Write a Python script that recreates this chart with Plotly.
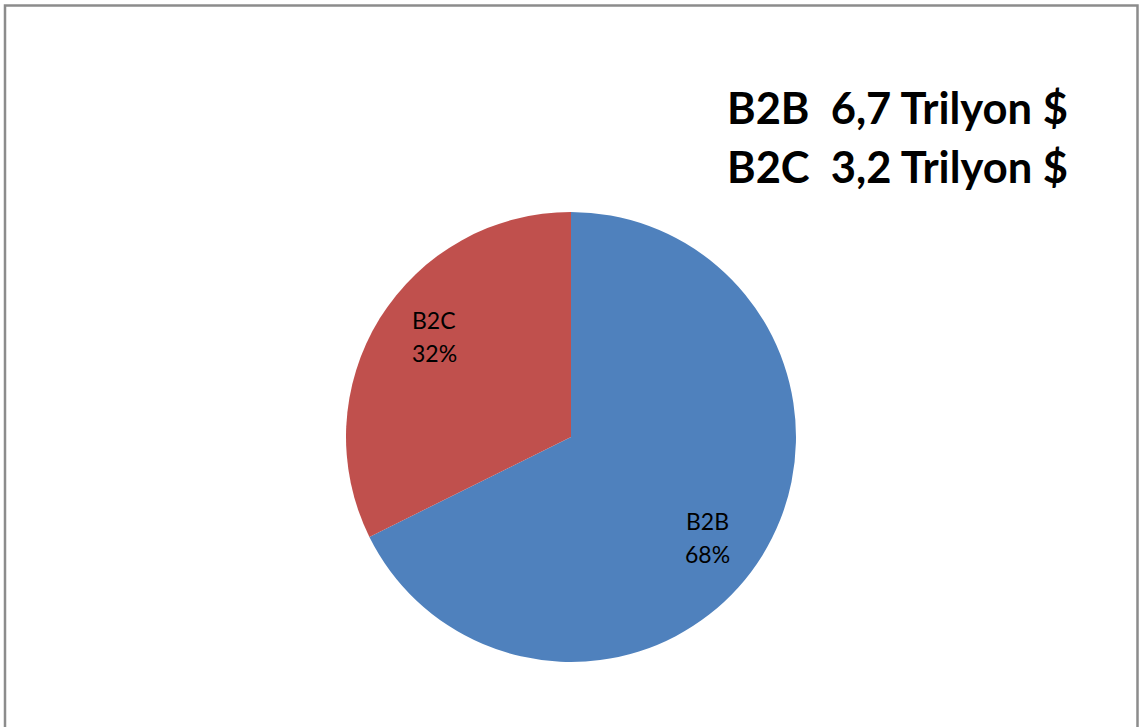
import math
import plotly.graph_objects as go

# Market segments and their volume (trillion $)
segments = ["B2B", "B2C"]
volumes = [6.7, 3.2]
colors = ["#4F81BD", "#C0504D"]
summary_lines = ["B2B  6,7 Trilyon $", "B2C  3,2 Trilyon $"]

W, H = 1139, 727
FONT = "Lato, Noto Sans, sans-serif"

# Pie placement (pixels in the page)
cx, cy, R = 571, 437, 225
LABEL_RADIUS = 0.755          # data labels sit near each slice bisector
LABEL_TURN = math.radians(4.5)

fig = go.Figure(
    go.Pie(
        labels=segments,
        values=volumes,
        sort=False,
        direction="clockwise",
        rotation=0,
        marker=dict(colors=colors, line=dict(color="white", width=0)),
        textinfo="none",
        domain=dict(x=[(cx - R) / W, (cx + R) / W], y=[1 - (cy + R) / H, 1 - (cy - R) / H]),
        showlegend=False,
        hoverinfo="label+value+percent",
    )
)

# Data labels: category name over rounded percentage
total = sum(volumes)
start = 0.0
for name, v in zip(segments, volumes):
    frac = v / total
    mid = (start + frac / 2) * 2 * math.pi + LABEL_TURN  # clockwise from 12 o'clock
    start += frac
    px = cx + LABEL_RADIUS * R * math.sin(mid)
    py = cy - LABEL_RADIUS * R * math.cos(mid)
    for txt, shift in ((name, 16.5), (f"{round(frac * 100)}%", -16.5)):
        fig.add_annotation(
            text=txt, xref="paper", yref="paper",
            x=px / W, y=1 - py / H, yshift=shift,
            xanchor="center", yanchor="middle", showarrow=False,
            font=dict(family=FONT, size=23, color="black"),
        )

# Summary text block
for i, line in enumerate(summary_lines):
    fig.add_annotation(
        text=f"<b>{line}</b>",
        xref="paper", yref="paper",
        x=725 / W, y=1 - (107 + 59 * i) / H,
        xanchor="left", yanchor="middle",
        showarrow=False,
        font=dict(family=FONT, size=43.5, color="black"),
    )

# Chart-area frame
fig.add_shape(
    type="rect", xref="paper", yref="paper",
    x0=5 / W, x1=1137.5 / W, y0=-0.05, y1=1 - 5.5 / H,
    line=dict(color="#8C8C8C", width=2.5),
    fillcolor="rgba(0,0,0,0)",
)

fig.update_layout(
    width=W, height=H,
    margin=dict(l=0, r=0, t=0, b=0),
    paper_bgcolor="white",
    plot_bgcolor="white",
)

fig.write_html("out.html")
